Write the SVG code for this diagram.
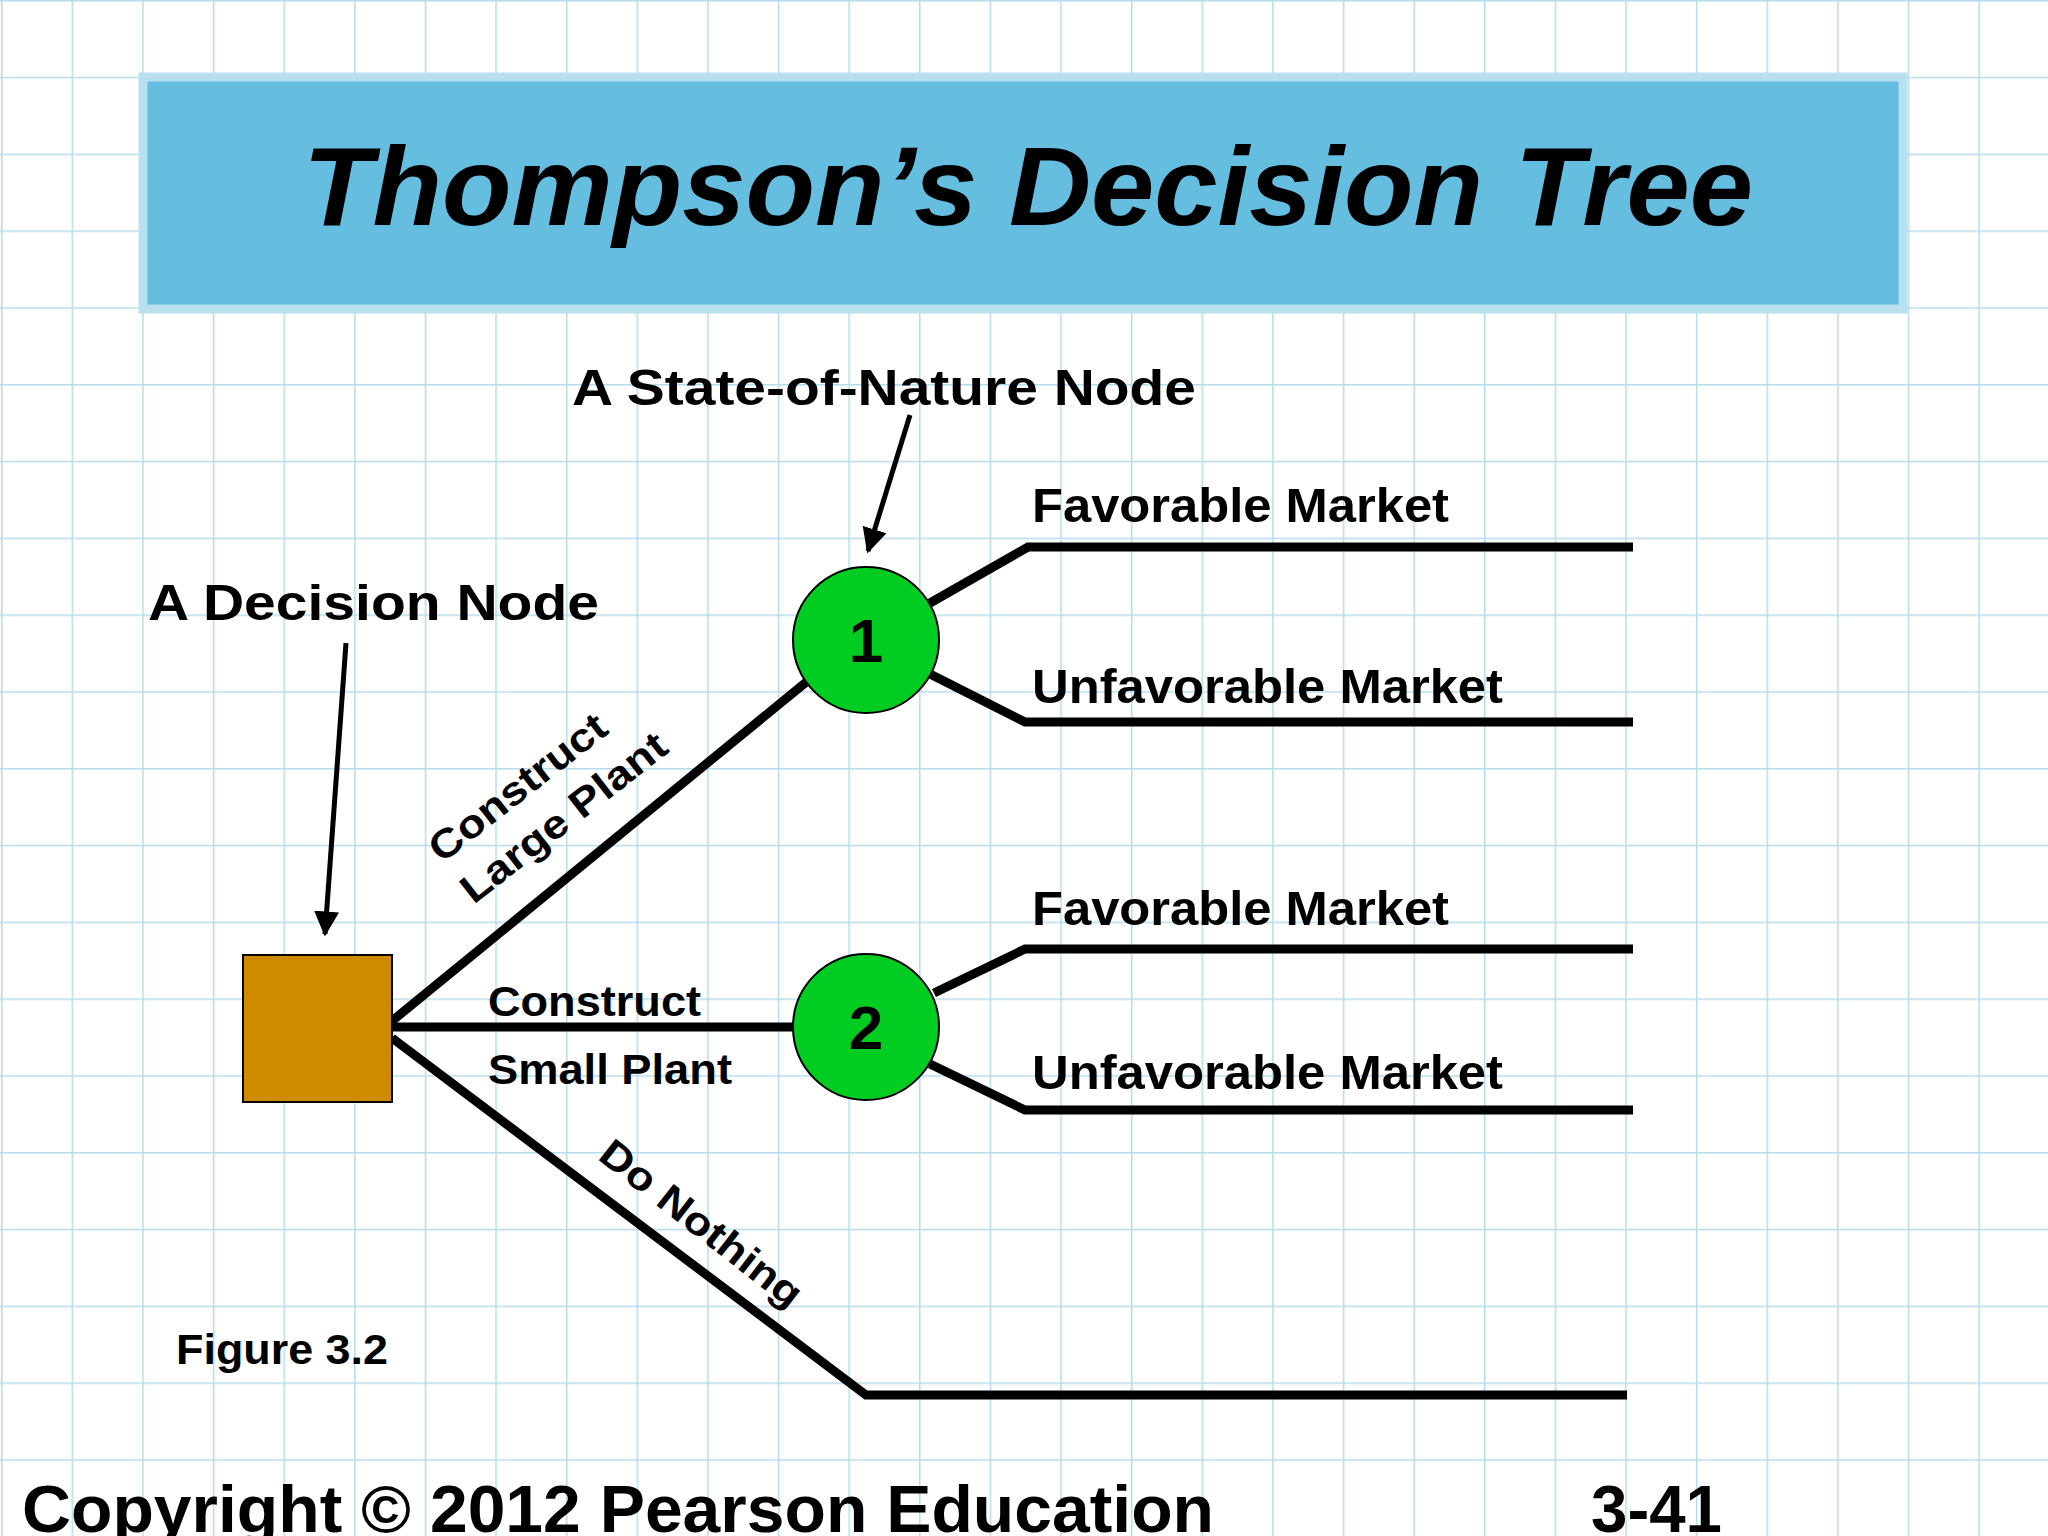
<svg xmlns="http://www.w3.org/2000/svg" width="2048" height="1536" viewBox="0 0 2048 1536">
<defs>
<pattern id="grid" width="70.62" height="76.8" patternUnits="userSpaceOnUse" x="1" y="0">
<path d="M0 0V76.8M0 0H70.62" fill="none" stroke="#b6dcec" stroke-width="3"/>
</pattern>
<marker id="ah" viewBox="0 0 10 10" refX="9" refY="5" markerWidth="5" markerHeight="5" orient="auto"><path d="M0 0L10 5L0 10z" fill="#000"/></marker>
<style>
text{font-family:"Liberation Sans",Arial,sans-serif;font-weight:bold;fill:#000}
.br{fill:none;stroke:#000;stroke-width:9}
.lab{font-size:48px}
.sm{font-size:42px}
.ptr{stroke:#000;stroke-width:5;fill:none;marker-end:url(#ah)}
.chance{fill:#00cc22;stroke:#000;stroke-width:2}
</style>
</defs>
<rect width="2048" height="1536" fill="#fff"/>
<rect width="2048" height="1536" fill="url(#grid)"/>
<g id="title">
<rect x="143" y="77" width="1760" height="232" fill="#65bde0" stroke="#b8e0ee" stroke-width="9"/>
<text x="1028" y="225" text-anchor="middle" font-size="112" font-style="italic" textLength="1450" lengthAdjust="spacingAndGlyphs">Thompson’s Decision Tree</text>
</g>
<g id="connectors">
<polyline class="br" points="392,1021 810,679"/>
<polyline class="br" points="392,1027 793,1027"/>
<polyline class="br" points="392,1038 866,1395 1627,1395"/>
<polyline class="br" points="930,603 1028,547 1633,547"/>
<polyline class="br" points="930,674 1025,722 1633,722"/>
<polyline class="br" points="934,993 1025,949 1633,949"/>
<polyline class="br" points="930,1064 1025,1110 1633,1110"/>
<line class="ptr" x1="910" y1="415" x2="868" y2="551"/>
<line class="ptr" x1="346" y1="643" x2="325" y2="934"/>
</g>
<g id="decision"><rect x="243" y="955" width="149" height="147" fill="#d08a00" stroke="#000" stroke-width="2"/></g>
<g id="node1"><circle class="chance" cx="866" cy="640" r="73"/><text x="866" y="662" text-anchor="middle" font-size="62">1</text></g>
<g id="node2"><circle class="chance" cx="866" cy="1027" r="73"/><text x="866" y="1049" text-anchor="middle" font-size="62">2</text></g>
<g id="labels">
<text x="572" y="405" font-size="50" textLength="624" lengthAdjust="spacingAndGlyphs">A State-of-Nature Node</text>
<text x="148" y="620" font-size="50" textLength="451" lengthAdjust="spacingAndGlyphs">A Decision Node</text>
<text x="1032" y="522" class="lab" textLength="417" lengthAdjust="spacingAndGlyphs">Favorable Market</text>
<text x="1032" y="703" class="lab" textLength="471" lengthAdjust="spacingAndGlyphs">Unfavorable Market</text>
<text x="1032" y="925" class="lab" textLength="417" lengthAdjust="spacingAndGlyphs">Favorable Market</text>
<text x="1032" y="1089" class="lab" textLength="471" lengthAdjust="spacingAndGlyphs">Unfavorable Market</text>
<text transform="translate(526,798) rotate(-38)" text-anchor="middle" font-size="40" textLength="214" lengthAdjust="spacingAndGlyphs">Construct</text>
<text transform="translate(572,828) rotate(-38)" text-anchor="middle" font-size="40" textLength="250" lengthAdjust="spacingAndGlyphs">Large Plant</text>
<text x="488" y="1016" class="sm" textLength="213" lengthAdjust="spacingAndGlyphs">Construct</text>
<text x="488" y="1084" class="sm" textLength="244" lengthAdjust="spacingAndGlyphs">Small Plant</text>
<text transform="translate(693,1234) rotate(38)" text-anchor="middle" font-size="40" textLength="245" lengthAdjust="spacingAndGlyphs">Do Nothing</text>
<text x="176" y="1364" class="sm" textLength="212" lengthAdjust="spacingAndGlyphs">Figure 3.2</text>
<text x="22" y="1532" font-size="66" textLength="1192" lengthAdjust="spacingAndGlyphs">Copyright © 2012 Pearson Education</text>
<text x="1591" y="1532" font-size="66" textLength="131" lengthAdjust="spacingAndGlyphs">3-41</text>
</g>
</svg>
